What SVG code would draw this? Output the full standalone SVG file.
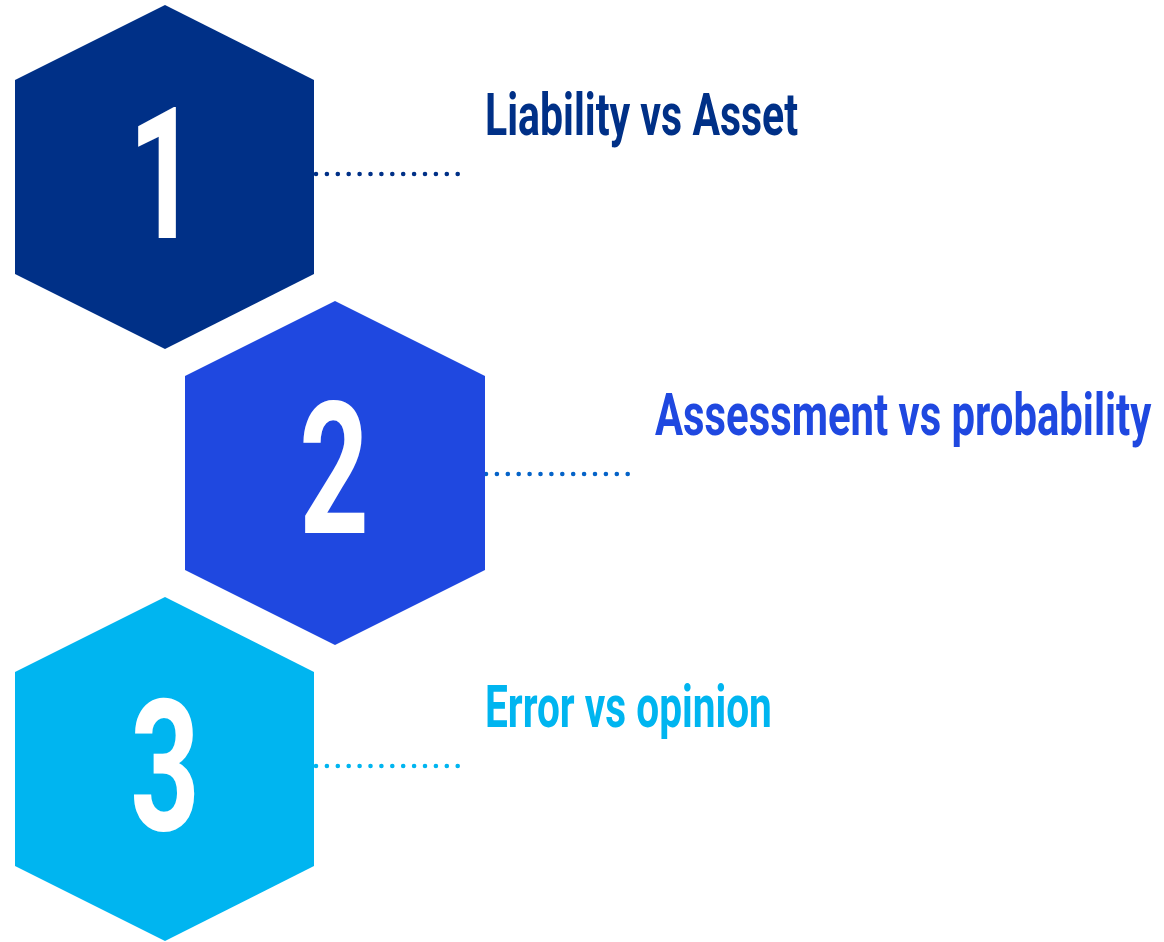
<svg xmlns="http://www.w3.org/2000/svg" width="1164" height="942" viewBox="0 0 1164 942">
<style>
.num{font-family:Roboto,"Liberation Sans",sans-serif;font-weight:700;font-size:184px;fill:#fff;text-anchor:middle}
.lbl{font-family:Roboto,"Liberation Sans",sans-serif;font-weight:700;font-size:60px}
.dots{fill:none;stroke-width:4.6;stroke-linecap:round;stroke-dasharray:0 10.9}
</style>
<rect width="1164" height="942" fill="#fff"/>
<g id="connectors">
<line class="dots" x1="316" y1="174" x2="458" y2="174" stroke="#003087"/>
<line class="dots" x1="486" y1="474" x2="628" y2="474" stroke="#0563C8"/>
<line class="dots" x1="316" y1="766" x2="458" y2="766" stroke="#00B5F0"/>
</g>
<g id="node1">
<polygon points="165,5 314,80 314,274 165,349 15,274 15,80" fill="#003087"/>
<text class="num" transform="translate(163,238) scale(0.66,1)">1</text>
<text class="lbl" transform="translate(485,135) scale(0.71,1)" fill="#003087" textLength="441" lengthAdjust="spacingAndGlyphs">Liability vs Asset</text>
</g>
<g id="node2">
<polygon points="335,301 485,376 485,570 335,645 185,570 185,376" fill="#1F48E0"/>
<text class="num" transform="translate(334,533) scale(0.66,1)">2</text>
<text class="lbl" transform="translate(655,435) scale(0.71,1)" fill="#1F48E0" textLength="699" lengthAdjust="spacingAndGlyphs">Assessment vs probability</text>
</g>
<g id="node3">
<polygon points="165,597 314,672 314,866 165,941 15,866 15,672" fill="#00B5F0"/>
<text class="num" transform="translate(165,830) scale(0.66,1)">3</text>
<text class="lbl" transform="translate(485,727) scale(0.71,1)" fill="#00B5F0" textLength="404" lengthAdjust="spacingAndGlyphs">Error vs opinion</text>
</g>
</svg>
